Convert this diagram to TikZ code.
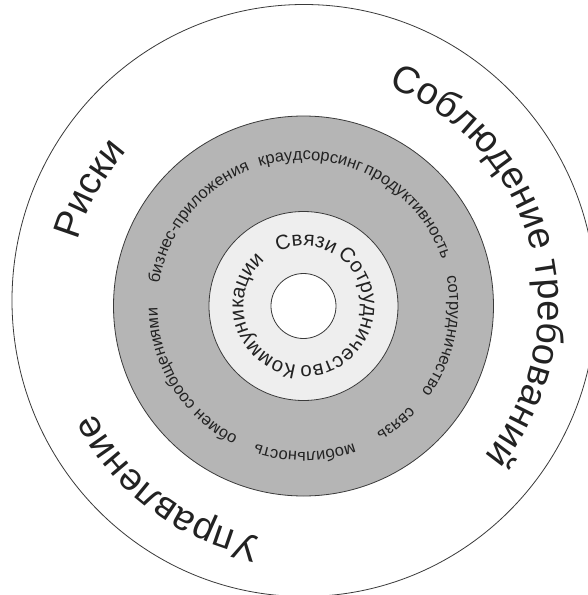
\documentclass[tikz,border=0pt]{standalone}
\usepackage{fontspec}
\setmainfont{Liberation Sans}
\usetikzlibrary{decorations.text}
\definecolor{ringgray}{HTML}{B5B5B5}
\definecolor{ringlight}{HTML}{EEEEEE}
\definecolor{edgecol}{HTML}{3A3A3A}
\definecolor{txt}{HTML}{222222}
\newcommand\ringlabel[4]{%
  \path[decorate, decoration={text along path, text align=center,
    text color=txt, text={|#3|#4}}]
    ({#1+150}:#2) arc[start angle={#1+150}, end angle={#1-150}, radius=#2];}
\newcommand\bigfont{\fontsize{38}{40}\selectfont}
\newcommand\midfont{\fontsize{20.5}{22}\selectfont}
\newcommand\smallfont{\fontsize{16.5}{18}\selectfont}
\begin{document}
\begin{tikzpicture}[ring/.style={draw=edgecol, line width=0.8pt}]
\useasboundingbox (-303.5pt,-289pt) rectangle (283.5pt,306pt);
\fill[white] (-303.5pt,-289pt) rectangle (283.5pt,306pt);
% rings
\draw[ring] (0.5pt,5.5pt) ellipse [x radius=292pt, y radius=296pt];
\draw[ring, fill=ringgray] (0,0) circle[radius=190pt];
\draw[ring, fill=ringlight] (0,0) circle[radius=94.5pt];
\draw[ring, fill=white] (0,0) circle[radius=32.5pt];
% outer ring labels
\ringlabel{151.3}{235pt}{\bigfont}{Риски}
\ringlabel{14.6}{235pt}{\bigfont}{Соблюдение требований}
\ringlabel{233.3}{235pt}{\bigfont}{Управление}
% middle ring labels
\ringlabel{141.3}{146pt}{\smallfont}{бизнес-приложения}
\ringlabel{87.3}{146pt}{\smallfont}{краудсорсинг}
\ringlabel{42.2}{146pt}{\smallfont}{продуктивность}
\ringlabel{-12.2}{146pt}{\smallfont}{сотрудничество}
\ringlabel{-51.8}{146pt}{\smallfont}{связь}
\ringlabel{-89.5}{146pt}{\smallfont}{мобильность}
\ringlabel{212}{146pt}{\smallfont}{обмен сообщениями}
% inner ring labels
\ringlabel{87.5}{60pt}{\midfont}{Связи}
\ringlabel{-18.6}{60pt}{\midfont}{Сотрудничество}
\ringlabel{196.9}{60pt}{\midfont}{Коммуникации}
\end{tikzpicture}
\end{document}
